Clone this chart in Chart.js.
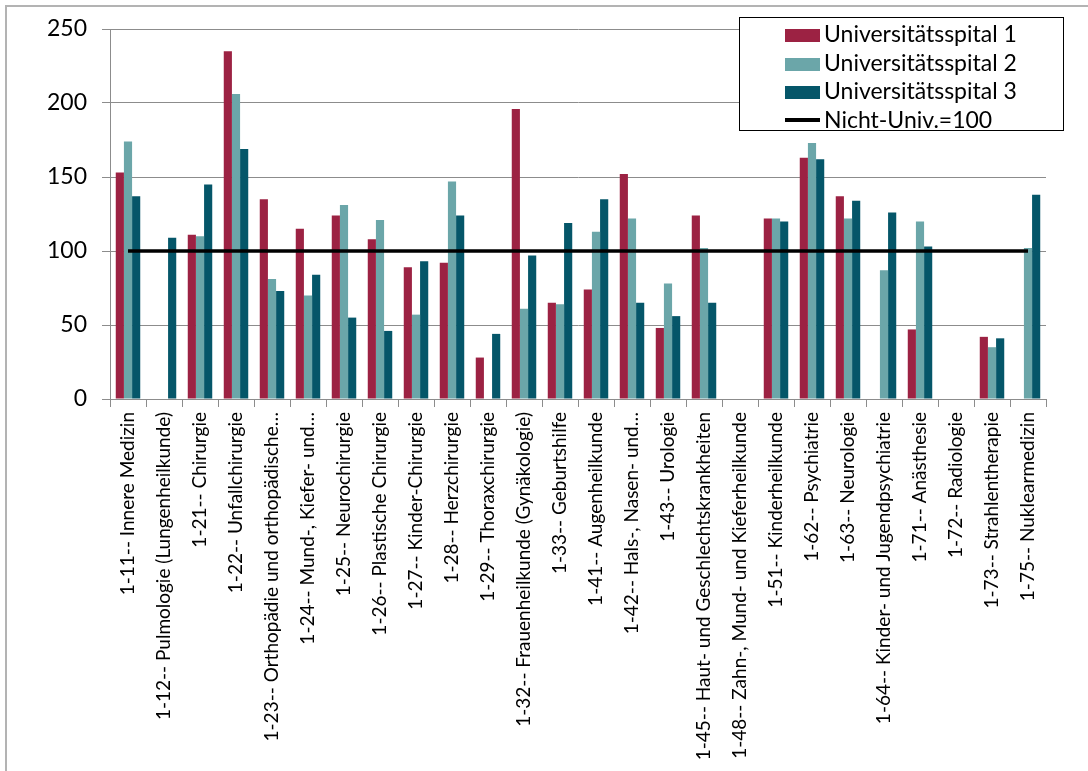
<!DOCTYPE html>
<html>
<head>
<meta charset="utf-8">
<script src="https://cdn.jsdelivr.net/npm/chart.js@4/dist/chart.umd.min.js"></script>
<style>
    body { margin: 0; background: #fff; font-family: Lato, sans-serif; }
    #wrap { position: relative; width: 1088px; height: 771px; overflow: hidden; }
    #frame { position: absolute; left: 5px; top: 5px; width: 1100px; height: 800px; border: 2px solid #b3b3b3; box-sizing: border-box; }
    #myChart { position: absolute; left: 0; top: 0; }
    #legend { position: absolute; left: 739px; top: 17px; width: 325px; height: 114px; border: 1.5px solid #000; box-sizing: border-box; background: #fff; }
    .item { position: absolute; left: 45px; height: 28px; line-height: 28px; font-size: 23px; color: #000; white-space: nowrap; }
    .sw { display: inline-block; width: 35px; height: 13px; margin-right: 4px; vertical-align: 0px; }
    .ln { display: inline-block; width: 35px; height: 4px; margin-right: 4px; vertical-align: 6px; background: #000; }
</style>
</head>
<body>
<div id="wrap">
    <div id="frame"></div>
    <canvas id="myChart" width="1088" height="771"></canvas>
    <div id="legend"></div>
</div>
<script>
// Fachgebiete (x-Achse)
var categories = [
    '1-11-- Innere Medizin',
    '1-12-- Pulmologie (Lungenheilkunde)',
    '1-21-- Chirurgie',
    '1-22-- Unfallchirurgie',
    '1-23-- Orthopädie und orthopädische…',
    '1-24-- Mund-, Kiefer- und…',
    '1-25-- Neurochirurgie',
    '1-26-- Plastische Chirurgie',
    '1-27-- Kinder-Chirurgie',
    '1-28-- Herzchirurgie',
    '1-29-- Thoraxchirurgie',
    '1-32-- Frauenheilkunde (Gynäkologie)',
    '1-33-- Geburtshilfe',
    '1-41-- Augenheilkunde',
    '1-42-- Hals-, Nasen- und…',
    '1-43-- Urologie',
    '1-45-- Haut- und Geschlechtskrankheiten',
    '1-48-- Zahn-, Mund- und Kieferheilkunde',
    '1-51-- Kinderheilkunde',
    '1-62-- Psychiatrie',
    '1-63-- Neurologie',
    '1-64-- Kinder- und Jugendpsychiatrie',
    '1-71-- Anästhesie',
    '1-72-- Radiologie',
    '1-73-- Strahlentherapie',
    '1-75-- Nuklearmedizin'
];

var spital1 = [153, null, 111, 235, 135, 115, 124, 108, 89, 92, 28, 196, 65, 74, 152, 48, 124, null, 122, 163, 137, null, 47, null, 42, null];
var spital2 = [174, null, 110, 206, 81, 70, 131, 121, 57, 147, null, 61, 64, 113, 122, 78, 102, null, 122, 173, 122, 87, 120, null, 35, 102];
var spital3 = [137, 109, 145, 169, 73, 84, 55, 46, 93, 124, 44, 97, 119, 135, 65, 56, 65, null, 120, 162, 134, 126, 103, null, 41, 138];

var referenz = 100;
var refLine = categories.map(function () { return referenz; });

var yTicks = [0, 50, 100, 150, 200, 250];

var seriesNames = ['Universitätsspital 1', 'Universitätsspital 2', 'Universitätsspital 3', 'Nicht-Univ.=100'];
var seriesColors = ['#9c2243', '#6ba6a9', '#055669', '#000000'];

var gridColor = '#8c8c8c';

function graficar() {
    var ctx = document.getElementById('myChart').getContext('2d');

    var chart = new Chart(ctx, {
        type: 'bar',
        data: {
            labels: categories,
            datasets: [{
                type: 'line',
                label: seriesNames[3],
                data: refLine,
                borderColor: seriesColors[3],
                borderWidth: 3.5,
                pointRadius: 0,
                fill: false,
                order: 0
            }, {
                label: seriesNames[0],
                data: spital1,
                backgroundColor: seriesColors[0],
                order: 1
            }, {
                label: seriesNames[1],
                data: spital2,
                backgroundColor: seriesColors[1],
                order: 1
            }, {
                label: seriesNames[2],
                data: spital3,
                backgroundColor: seriesColors[2],
                order: 1
            }]
        },
        options: {
            responsive: false,
            animation: false,
            layout: { padding: { top: 29, right: 42, left: 0, bottom: 0 } },
            datasets: {
                bar: { categoryPercentage: 0.68, barPercentage: 1.0 }
            },
            plugins: {
                legend: { display: false },
                tooltip: { enabled: false }
            },
            scales: {
                x: {
                    grid: { display: true, drawOnChartArea: false, drawTicks: true, tickLength: 8, color: gridColor, offset: true },
                    border: { display: true, color: gridColor, width: 1 },
                    ticks: {
                        autoSkip: false,
                        minRotation: 90,
                        maxRotation: 90,
                        padding: 5,
                        color: '#000',
                        font: { family: 'Lato', size: 19 }
                    },
                    afterFit: function (scale) { scale.height = 771 - 399; }
                },
                y: {
                    min: 0,
                    max: 250,
                    afterBuildTicks: function (scale) {
                        scale.ticks = yTicks.map(function (v) { return { value: v }; });
                    },
                    grid: { color: gridColor, tickLength: 8 },
                    border: { display: true, color: gridColor, width: 1 },
                    ticks: {
                        padding: 15,
                        color: '#000',
                        font: { family: 'Lato', size: 23 }
                    },
                    afterFit: function (scale) { scale.width = 110; }
                }
            }
        }
    });
    return chart;
}

// Legende (HTML, oben rechts im Diagramm)
function legende() {
    var html = '';
    for (var i = 0; i < seriesNames.length; i++) {
        var mark = i < 3
            ? '<span class="sw" style="background:' + seriesColors[i] + '"></span>'
            : '<span class="ln"></span>';
        html += '<div class="item" style="top:' + (1 + i * 28.5) + 'px">' + mark + seriesNames[i] + '</div>';
    }
    document.getElementById('legend').innerHTML = html;
}

graficar();
legende();
</script>
</body>
</html>
